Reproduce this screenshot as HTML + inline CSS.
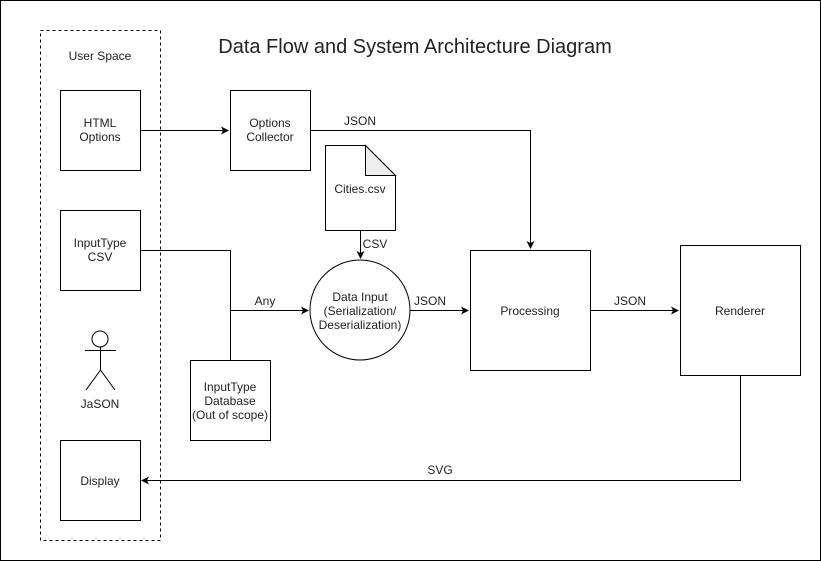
<!DOCTYPE html>
<html><head><style>body{margin:0;background:#fff}svg{display:block}text{font-family:"Liberation Sans",Arial,sans-serif;font-size:12px;fill:#222}</style></head>
<body>
<svg width="821" height="561" viewBox="0 0 821 561" xmlns="http://www.w3.org/2000/svg">
<defs><marker id="a" markerWidth="8" markerHeight="8" refX="7" refY="4" orient="auto" markerUnits="userSpaceOnUse"><path d="M0,0 L8,4 L0,8 L2,4 Z" fill="#000"/></marker></defs>
<rect x="0.5" y="0.5" width="820" height="560" fill="#fff" stroke="#000"/>
<rect x="40.5" y="30.5" width="120" height="510" fill="none" stroke="#000" stroke-dasharray="3,3"/>
<text x="100" y="60" text-anchor="middle">User Space</text>
<text x="415" y="53" text-anchor="middle" style="font-size:20px">Data Flow and System Architecture Diagram</text>
<g fill="#fff" stroke="#000">
<rect x="60.5" y="90.5" width="80" height="80"/>
<rect x="60.5" y="210.5" width="80" height="80"/>
<rect x="60.5" y="440.5" width="80" height="80"/>
<rect x="230.5" y="90.5" width="80" height="80"/>
<rect x="190.5" y="360.5" width="80" height="80"/>
<rect x="470.5" y="250.5" width="120" height="120"/>
<rect x="680.5" y="245.5" width="120" height="130"/>
<circle cx="360" cy="310" r="50"/>
<path d="M325.5,145.5 H365.5 L395.5,175.5 V230.5 H325.5 Z"/>
</g>
<path d="M365.5,145.5 V175.5 H395.5 Z" fill="#eee" stroke="#000"/>
<g fill="none" stroke="#000">
<circle cx="100" cy="339" r="8"/>
<path d="M85,350.5 H116 M100.5,347 V370 L86,390 M100.5,370 L115,390"/>
<path d="M140,130.5 H228" marker-end="url(#a)"/>
<path d="M310,130.5 H530.5 V248" marker-end="url(#a)"/>
<path d="M360.5,231 V258" marker-end="url(#a)"/>
<path d="M140,250.5 H230.5 V360"/>
<path d="M230.5,310.5 H308" marker-end="url(#a)"/>
<path d="M410,310.5 H468" marker-end="url(#a)"/>
<path d="M590,310.5 H678" marker-end="url(#a)"/>
<path d="M740.5,375 V480.5 H142" marker-end="url(#a)"/>
</g>
<g text-anchor="middle">
<text x="100" y="127">HTML</text><text x="100" y="141">Options</text>
<text x="100" y="247">InputType</text><text x="100" y="261">CSV</text>
<text x="100" y="485">Display</text>
<text x="100" y="408">JaSON</text>
<text x="270" y="127">Options</text><text x="270" y="141">Collector</text>
<text x="360" y="193">Cities.csv</text>
<text x="360" y="301">Data Input</text><text x="360" y="315">(Serialization/</text><text x="360" y="329">Deserialization)</text>
<text x="230" y="391">InputType</text><text x="230" y="405">Database</text><text x="230" y="419">(Out of scope)</text>
<text x="530" y="315">Processing</text>
<text x="740" y="315">Renderer</text>
<text x="360" y="125">JSON</text>
<text x="375" y="248">CSV</text>
<text x="265" y="305">Any</text>
<text x="430" y="305">JSON</text>
<text x="630" y="305">JSON</text>
<text x="440" y="474">SVG</text>
</g>
</svg>
</body></html>
